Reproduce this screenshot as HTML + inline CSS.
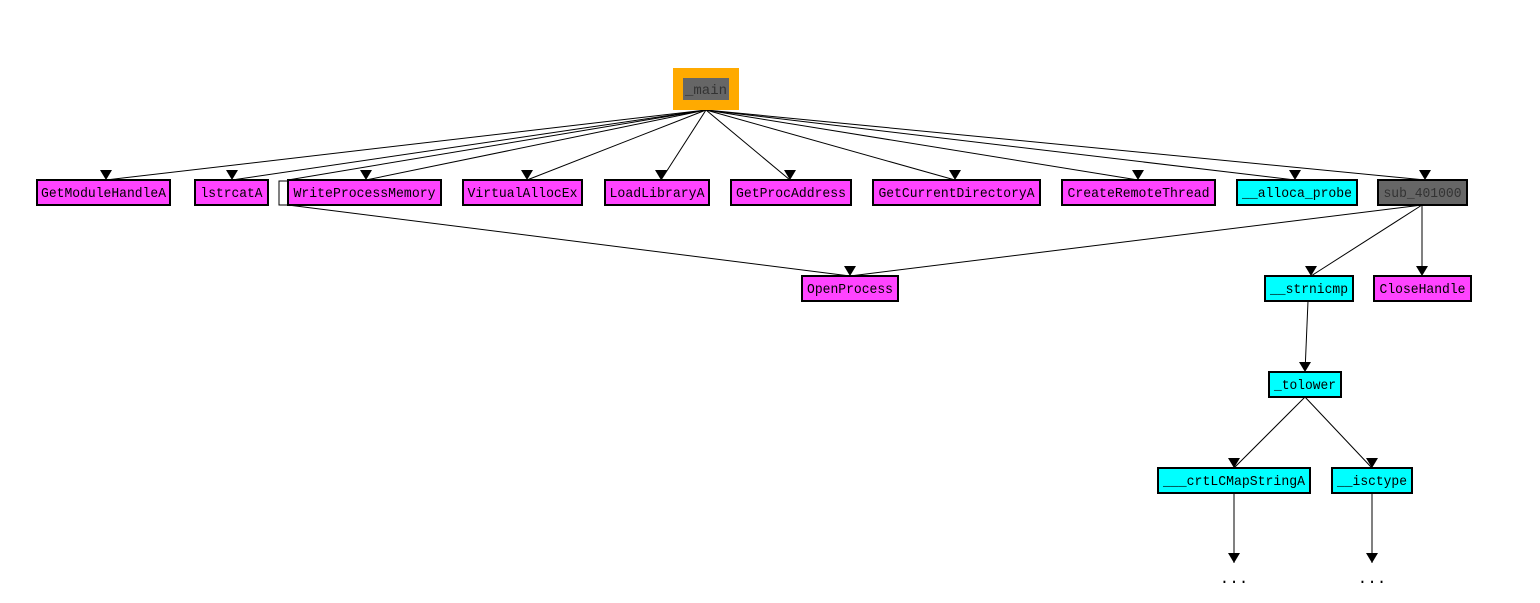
<!DOCTYPE html>
<html><head><meta charset="utf-8"><style>
html,body{margin:0;padding:0;background:#fff;}
svg text{font-family:"Liberation Mono","DejaVu Sans Mono",monospace;font-size:14px;}
</style></head><body>
<svg width="1540" height="598" viewBox="0 0 1540 598" xmlns="http://www.w3.org/2000/svg">
<rect width="1540" height="598" fill="#fff"/>
<g stroke="#000" stroke-width="1" fill="none">
<line x1="706" y1="110" x2="106" y2="180"/>
<line x1="706" y1="110" x2="232" y2="180"/>
<line x1="706" y1="110" x2="288" y2="180"/>
<line x1="706" y1="110" x2="366" y2="180"/>
<line x1="706" y1="110" x2="527" y2="180"/>
<line x1="706" y1="110" x2="661" y2="180"/>
<line x1="706" y1="110" x2="790" y2="180"/>
<line x1="706" y1="110" x2="955" y2="180"/>
<line x1="706" y1="110" x2="1138" y2="180"/>
<line x1="706" y1="110" x2="1295" y2="180"/>
<line x1="706" y1="110" x2="1425" y2="180"/>
<line x1="288" y1="205" x2="850" y2="276"/>
<line x1="1422" y1="205" x2="850" y2="276"/>
<line x1="1422" y1="205" x2="1311" y2="276"/>
<line x1="1422" y1="205" x2="1422" y2="276"/>
<line x1="1308" y1="301" x2="1305" y2="372"/>
<line x1="1305" y1="397" x2="1234" y2="468"/>
<line x1="1305" y1="397" x2="1372" y2="468"/>
<line x1="1234" y1="493" x2="1234" y2="563"/>
<line x1="1372" y1="493" x2="1372" y2="563"/>
</g>
<g fill="#000">
<polygon points="100,170 112,170 106,180"/>
<polygon points="226,170 238,170 232,180"/>
<polygon points="360,170 372,170 366,180"/>
<polygon points="521,170 533,170 527,180"/>
<polygon points="655,170 667,170 661,180"/>
<polygon points="784,170 796,170 790,180"/>
<polygon points="949,170 961,170 955,180"/>
<polygon points="1132,170 1144,170 1138,180"/>
<polygon points="1289,170 1301,170 1295,180"/>
<polygon points="1419,170 1431,170 1425,180"/>
<polygon points="844,266 856,266 850,276"/>
<polygon points="1305,266 1317,266 1311,276"/>
<polygon points="1416,266 1428,266 1422,276"/>
<polygon points="1299,362 1311,362 1305,372"/>
<polygon points="1228,458 1240,458 1234,468"/>
<polygon points="1366,458 1378,458 1372,468"/>
<polygon points="1228,553 1240,553 1234,563"/>
<polygon points="1366,553 1378,553 1372,563"/>
</g>
<rect x="673" y="68" width="66" height="42" fill="#ffaa00"/>
<rect x="683" y="78" width="46" height="22" fill="#666"/>
<text x="706" y="94" text-anchor="middle" fill="#333" textLength="42" lengthAdjust="spacingAndGlyphs">_main</text>
<g stroke="#000" stroke-width="2">
<rect x="37" y="180" width="133" height="25" fill="#ff44ff"/>
<rect x="195" y="180" width="73" height="25" fill="#ff44ff"/>
<rect x="279" y="181" width="9" height="24" fill="#fff" stroke-width="1"/>
<rect x="288" y="180" width="153" height="25" fill="#ff44ff"/>
<rect x="463" y="180" width="119" height="25" fill="#ff44ff"/>
<rect x="605" y="180" width="104" height="25" fill="#ff44ff"/>
<rect x="731" y="180" width="120" height="25" fill="#ff44ff"/>
<rect x="873" y="180" width="167" height="25" fill="#ff44ff"/>
<rect x="1062" y="180" width="153" height="25" fill="#ff44ff"/>
<rect x="1237" y="180" width="120" height="25" fill="#00ffff"/>
<rect x="1378" y="180" width="89" height="25" fill="#666"/>
<rect x="802" y="276" width="96" height="25" fill="#ff44ff"/>
<rect x="1265" y="276" width="88" height="25" fill="#00ffff"/>
<rect x="1374" y="276" width="97" height="25" fill="#ff44ff"/>
<rect x="1269" y="372" width="72" height="25" fill="#00ffff"/>
<rect x="1158" y="468" width="152" height="25" fill="#00ffff"/>
<rect x="1332" y="468" width="80" height="25" fill="#00ffff"/>
</g>
<g text-anchor="middle">
<text x="103.5" y="197" textLength="125" lengthAdjust="spacingAndGlyphs">GetModuleHandleA</text>
<text x="231.5" y="197" textLength="62" lengthAdjust="spacingAndGlyphs">lstrcatA</text>
<text x="364.5" y="197" textLength="142" lengthAdjust="spacingAndGlyphs">WriteProcessMemory</text>
<text x="522.5" y="197" textLength="110" lengthAdjust="spacingAndGlyphs">VirtualAllocEx</text>
<text x="657" y="197" textLength="95" lengthAdjust="spacingAndGlyphs">LoadLibraryA</text>
<text x="791" y="197" textLength="110" lengthAdjust="spacingAndGlyphs">GetProcAddress</text>
<text x="956.5" y="197" textLength="156" lengthAdjust="spacingAndGlyphs">GetCurrentDirectoryA</text>
<text x="1138.5" y="197" textLength="142" lengthAdjust="spacingAndGlyphs">CreateRemoteThread</text>
<text x="1297" y="197" textLength="110" lengthAdjust="spacingAndGlyphs">__alloca_probe</text>
<text x="1422.5" y="197" fill="#333" textLength="78" lengthAdjust="spacingAndGlyphs">sub_401000</text>
<text x="850" y="293" textLength="86" lengthAdjust="spacingAndGlyphs">OpenProcess</text>
<text x="1309" y="293" textLength="78" lengthAdjust="spacingAndGlyphs">__strnicmp</text>
<text x="1422.5" y="293" textLength="86" lengthAdjust="spacingAndGlyphs">CloseHandle</text>
<text x="1305" y="389" textLength="62" lengthAdjust="spacingAndGlyphs">_tolower</text>
<text x="1234" y="485" textLength="142" lengthAdjust="spacingAndGlyphs">___crtLCMapStringA</text>
<text x="1372" y="485" textLength="70" lengthAdjust="spacingAndGlyphs">__isctype</text>
<text x="1234" y="583" style="font-size:16px">...</text>
<text x="1372" y="583" style="font-size:16px">...</text>
</g>
</svg>
</body></html>
